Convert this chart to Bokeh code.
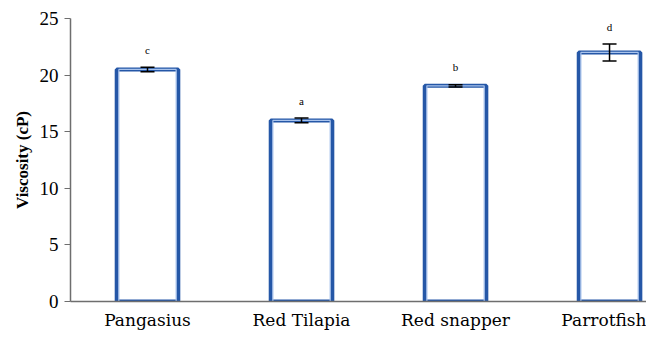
from bokeh.plotting import figure
from bokeh.models import ColumnDataSource, Whisker, TeeHead, FixedTicker, Range1d
from bokeh.core.properties import value
from bokeh.embed import file_html
from bokeh.resources import INLINE

categories = ["Pangasius", "Red Tilapia", "Red snapper", "Parrotfish"]
viscosity = [20.5, 16.0, 19.05, 22.0]
errors = [0.2, 0.2, 0.1, 0.75]
letters = ["c", "a", "b", "d"]
y_ticks = [0, 5, 10, 15, 20, 25]

SERIF = "Liberation Serif"
XFONT = "DejaVu Serif"

xs = [i + 0.5 for i in range(len(categories))]
src = ColumnDataSource(dict(
    x=xs, top=viscosity,
    upper=[v + e for v, e in zip(viscosity, errors)],
    lower=[v - e for v, e in zip(viscosity, errors)],
    ly=[v + e + 1.0 for v, e in zip(viscosity, errors)],
    lab=letters,
))

p = figure(width=646, height=332, output_backend="svg", toolbar_location=None,
           x_range=Range1d(0, 3.74), y_range=Range1d(0, 25),
           min_border_left=70, min_border_right=0, min_border_top=18, min_border_bottom=29)
p.outline_line_color = None
p.grid.grid_line_color = None
p.background_fill_color = "white"

p.vbar(x="x", top="top", bottom=0, width=0.4, source=src,
       fill_color="white", line_color="#2557a7", line_width=4)
p.vbar(x="x", top="top", bottom=0, width=0.372, source=src,
       fill_color=None, line_color="#a9c3ec", line_width=1.2)

wh = Whisker(base="x", upper="upper", lower="lower", source=src, level="overlay",
             line_color="black", line_width=1.5,
             upper_head=TeeHead(size=14, line_color="black", line_width=1.5),
             lower_head=TeeHead(size=14, line_color="black", line_width=1.5))
p.add_layout(wh)

p.text(x="x", y="ly", text="lab", source=src, text_align="center",
       text_baseline="bottom", text_font=value(SERIF),
       text_font_size="11px", text_color="black")

p.xaxis.ticker = FixedTicker(ticks=xs)
p.xaxis.major_label_overrides = {x: c for x, c in zip(xs, categories)}
p.xaxis.major_tick_line_color = None
p.xaxis.minor_tick_line_color = None
p.xaxis.axis_line_color = "#6e6e6e"
p.xaxis.axis_line_width = 1.5
p.xaxis.major_label_text_font = XFONT
p.xaxis.major_label_text_font_size = "17px"
p.xaxis.major_label_text_color = "black"
p.xaxis.major_label_standoff = 2

p.yaxis.ticker = FixedTicker(ticks=y_ticks)
p.yaxis.minor_tick_line_color = None
p.yaxis.major_tick_in = 0
p.yaxis.major_tick_out = 6
p.yaxis.major_tick_line_color = "#6e6e6e"
p.yaxis.axis_line_color = "#6e6e6e"
p.yaxis.axis_line_width = 1.5
p.yaxis.major_label_text_font = SERIF
p.yaxis.major_label_text_font_size = "19px"
p.yaxis.major_label_text_color = "black"
p.yaxis.major_label_standoff = 6
p.yaxis.axis_label = "Viscosity (cP)"
p.yaxis.axis_label_text_font = SERIF
p.yaxis.axis_label_text_font_size = "17px"
p.yaxis.axis_label_text_font_style = "bold"
p.yaxis.axis_label_text_color = "black"
p.yaxis.axis_label_standoff = 5

open("out.html", "w").write(file_html(p, INLINE))
